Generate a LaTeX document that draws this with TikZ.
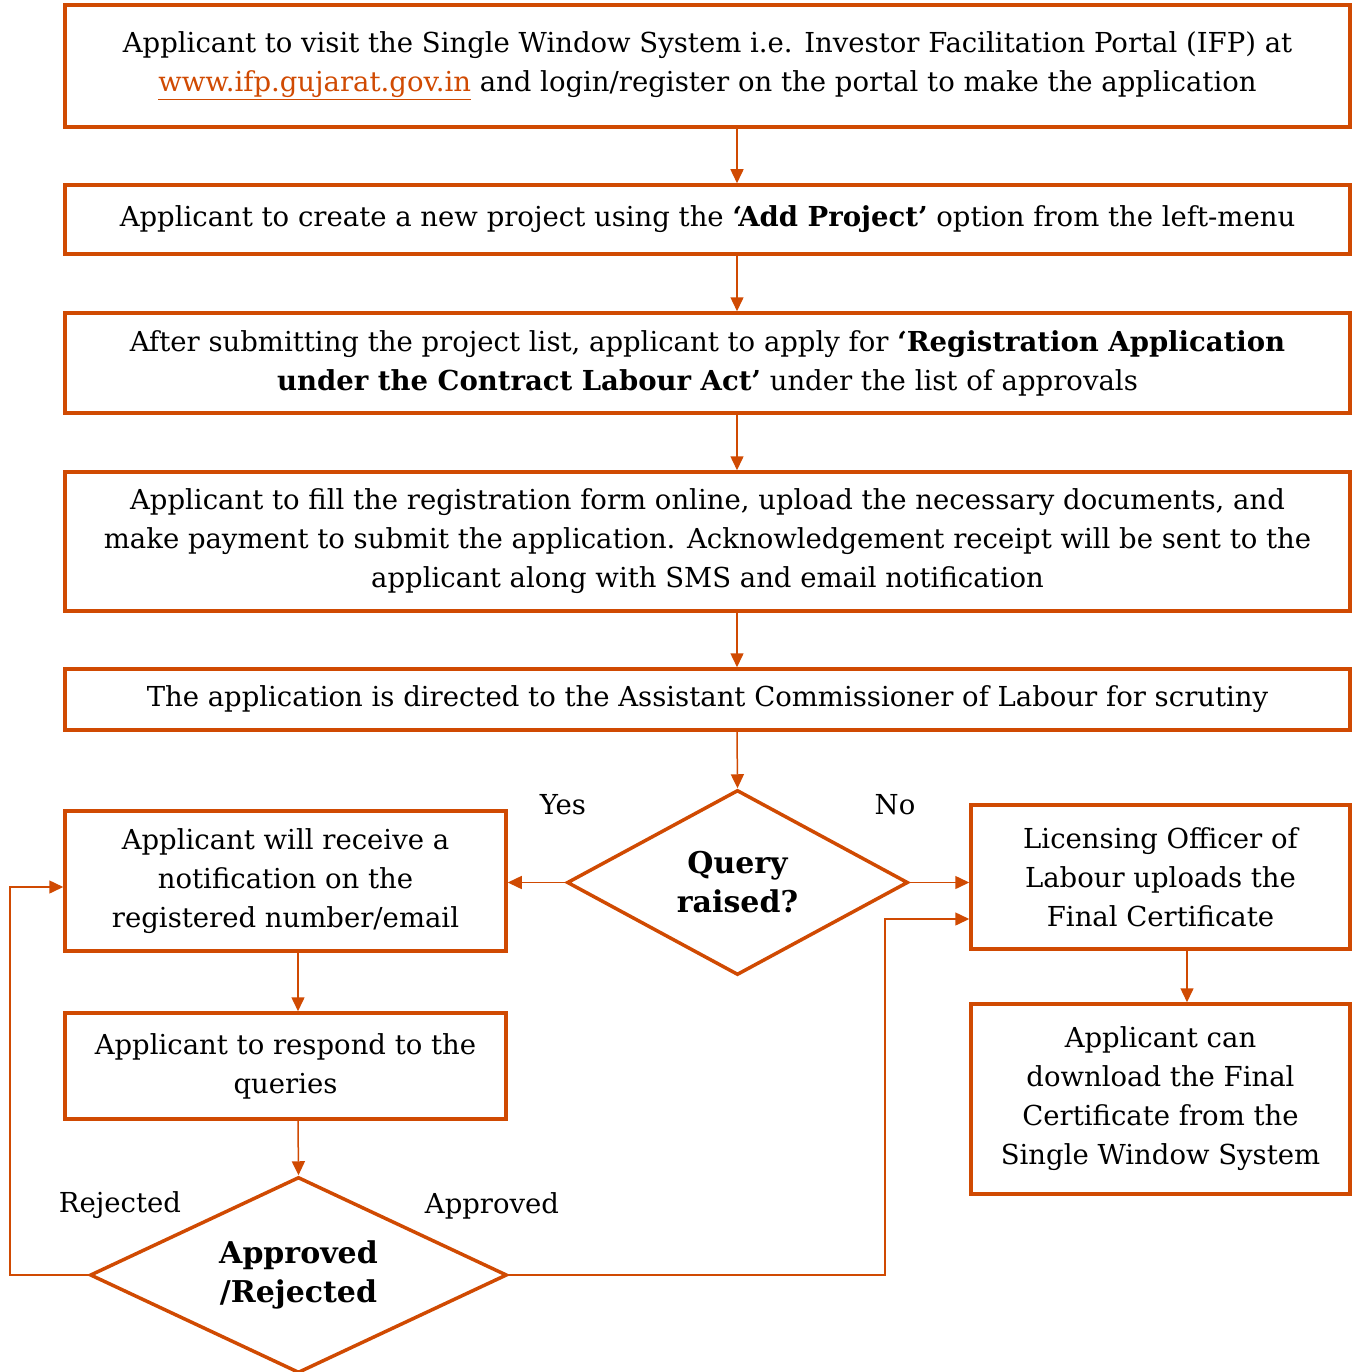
\documentclass[tikz,border=0pt]{standalone}
\usepackage{fontspec}
\setmainfont{DejaVu Serif}
\usetikzlibrary{arrows.meta,shapes.geometric}
\definecolor{pwc}{HTML}{D04A02}
\begin{document}
\begin{tikzpicture}[x=1pt,y=-1pt,
  font=\fontsize{27.5}{39}\selectfont,
  box/.style={draw=pwc,line width=3.5pt,align=center,inner sep=0pt},
  dia/.style={draw=pwc,line width=3.5pt,diamond,aspect=2,align=center,inner sep=0pt,font=\fontsize{30}{39}\selectfont\bfseries},
  conn/.style={draw=pwc,line width=1.5pt,-{Triangle[length=14pt,width=13pt]}},
  lbl/.style={inner sep=0pt}]
\useasboundingbox (0,0) rectangle (1351,1372);
\node[box,minimum width=1285,minimum height=122] (b1) at (707.5,66)
  {Applicant to visit the Single Window System i.e. Investor Facilitation Portal (IFP) at\\
   \textcolor{pwc}{\underline{www.ifp.gujarat.gov.in}} and login/register on the portal to make the application};
\node[box,minimum width=1285,minimum height=69] (b2) at (707.5,219.5)
  {Applicant to create a new project using the \textbf{‘Add Project’} option from the left-menu};
\node[box,minimum width=1285,minimum height=100] (b3) at (707.5,363)
  {After submitting the project list, applicant to apply for \textbf{‘Registration Application}\\
   \textbf{under the Contract Labour Act’} under the list of approvals};
\node[box,minimum width=1285,minimum height=139] (b4) at (707.5,541.5)
  {Applicant to fill the registration form online, upload the necessary documents, and\\
   make payment to submit the application. Acknowledgement receipt will be sent to the\\
   applicant along with SMS and email notification};
\node[box,minimum width=1285,minimum height=61] (b5) at (707.5,699.5)
  {The application is directed to the Assistant Commissioner of Labour for scrutiny};
\node[dia,minimum width=341,minimum height=185] (q) at (737.5,882.5) {Query\\raised?};
\node[box,minimum width=441,minimum height=140] (na) at (285.5,881)
  {Applicant will receive a\\notification on the\\registered number/email};
\node[box,minimum width=441,minimum height=106] (nb) at (285.5,1066)
  {Applicant to respond to the\\queries};
\node[dia,minimum width=417,minimum height=196] (ar) at (298.5,1275) {Approved\\/Rejected};
\node[box,minimum width=379,minimum height=144] (nc) at (1160.5,877)
  {Licensing Officer of\\Labour uploads the\\Final Certificate};
\node[box,minimum width=379,minimum height=190] (nd) at (1160.5,1099)
  {Applicant can\\download the Final\\Certificate from the\\Single Window System};
\node[lbl] (yes) at (563,805) {Yes};
\node[lbl] (no) at (895,805) {No};
\node[lbl] (rej) at (120,1205) {Rejected};
\node[lbl] (app) at (492,1206) {Approved};
\coordinate (ax) at (737,0);
\coordinate (bx) at (298,0);
\coordinate (cx) at (1187,0);
\coordinate (lx) at (10,0);
\coordinate (rx) at (885,0);
\coordinate (ly) at (0,887);
\coordinate (ry) at (0,919);
\draw[conn] (b1.south -| ax) -- (b2.north -| ax);
\draw[conn] (b2.south -| ax) -- (b3.north -| ax);
\draw[conn] (b3.south -| ax) -- (b4.north -| ax);
\draw[conn] (b4.south -| ax) -- (b5.north -| ax);
\draw[conn] (b5.south -| ax) -- (q.north);
\draw[conn] (q.west) -- (na.east |- q.west);
\draw[conn] (q.east) -- (nc.west |- q.east);
\draw[conn] (na.south -| bx) -- (nb.north -| bx);
\draw[conn] (nb.south -| bx) -- (ar.north);
\draw[conn] (nc.south -| cx) -- (nd.north -| cx);
\draw[conn] (ar.west) -| (lx |- ly) -- (na.west |- ly);
\draw[conn] (ar.east) -| (rx |- ry) -- (nc.west |- ry);
\end{tikzpicture}
\end{document}
